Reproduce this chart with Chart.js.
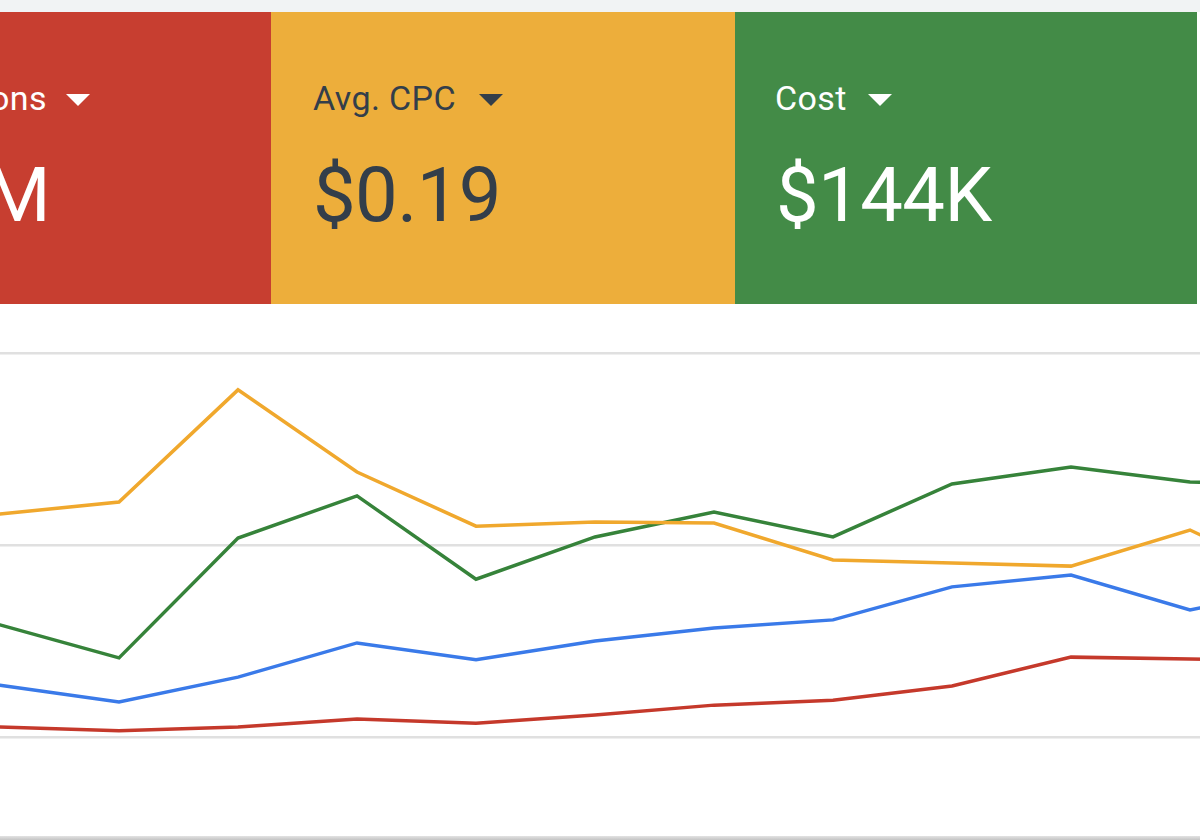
<!DOCTYPE html>
<html>
<head>
<meta charset="utf-8">
<script src="https://cdn.jsdelivr.net/npm/chart.js@4/dist/chart.umd.min.js"></script>
<style>
  html, body { margin: 0; padding: 0; }
  body {
    width: 1200px; height: 840px; overflow: hidden; position: relative;
    background: #fff; font-family: Roboto, "Noto Sans", sans-serif;
  }
  .topbar { position: absolute; left: 0; top: 0; width: 1200px; height: 12px; background: #f1f3f4; }
  .tile { position: absolute; top: 12px; height: 292px; overflow: hidden; }
  .red { left: 0; width: 271px; background: #c73e30; }
  .yellow { left: 271px; width: 464px; background: #edae3b; }
  .green { left: 735px; width: 462px; background: #438b47; }
  .label, .value { position: absolute; line-height: 1; white-space: nowrap; }
  .label { top: 69px; font-size: 34px; letter-spacing: 0.4px; }
  .value { top: 145px; font-size: 76px; letter-spacing: -0.6px; }
  .caret { position: absolute; top: 82px; width: 0; height: 0;
    border-left: 12px solid transparent; border-right: 12px solid transparent; border-top: 12px solid; }
  .light { color: #fff; }
  .dark { color: #333e4a; }
  .chartbox { position: absolute; left: -119px; top: 343px; width: 1428px; height: 404px; }
  .bottomline { position: absolute; left: 0; top: 836px; width: 1200px; height: 4px;
    background: linear-gradient(#e2e2e2, #c4c4c4); }
</style>
</head>
<body>
<div class="topbar"></div>

<div class="tile red">
  <div class="label light" style="right:224px;">Impressions</div>
  <div class="caret" style="left:66px; color:#fff;"></div>
  <div class="value light" style="right:221px;">M</div>
</div>
<div class="tile yellow">
  <div class="label dark" style="left:42px;">Avg. CPC</div>
  <div class="caret" style="left:208px; color:#333e4a;"></div>
  <div class="value dark" style="left:42px;">$0.19</div>
</div>
<div class="tile green">
  <div class="label light" style="left:40px;">Cost</div>
  <div class="caret" style="left:133px; color:#fff;"></div>
  <div class="value light" style="left:41px;">$144K</div>
</div>

<div class="chartbox"><canvas id="metricsChart"></canvas></div>
<div class="bottomline"></div>

<script>
// periods along the x axis (first and last sit just outside the visible crop)
const periods = ["1", "2", "3", "4", "5", "6", "7", "8", "9", "10", "11", "12", "13"];

// each metric normalised to its own 0-100 range, as the dashboard does
const avgCpc = [56.5, 58.1, 61.2, 90.4, 69.0, 54.9, 56.0, 55.7, 46.1, 45.3, 44.5, 53.9, 39.3];
const cost = [35.7, 29.2, 20.6, 51.8, 62.8, 41.1, 52.1, 58.6, 52.1, 65.9, 70.3, 66.4, 65.6];
const clicks = [17.4, 13.5, 9.1, 15.6, 24.5, 20.1, 25.0, 28.4, 30.5, 39.1, 42.2, 33.1, 39.3];
const impressions = [3.4, 2.6, 1.6, 2.6, 4.7, 3.6, 5.7, 8.3, 9.6, 13.3, 20.8, 20.3, 19.8];

const yTicks = [0, 50, 100];

document.addEventListener("DOMContentLoaded", () => {
  const ctx = document.getElementById("metricsChart").getContext("2d");

  const line = (label, data, color) => ({
    label: label,
    data: data,
    borderColor: color,
    borderWidth: 3.5,
    pointRadius: 0,
    tension: 0,
    fill: false,
  });

  new Chart(ctx, {
    type: "line",
    data: {
      labels: periods,
      datasets: [
        line("Impressions", impressions, "#c5392b"),
        line("Clicks", clicks, "#3a7ae9"),
        line("Avg. CPC", avgCpc, "#f0a82d"),
        line("Cost", cost, "#36833a"),
      ],
    },
    options: {
      responsive: true,
      maintainAspectRatio: false,
      animation: false,
      layout: { padding: { top: 10, bottom: 10, left: 0, right: 0 } },
      plugins: { legend: { display: false }, tooltip: { enabled: false } },
      scales: {
        x: { display: false },
        y: {
          min: yTicks[0],
          max: yTicks[yTicks.length - 1],
          afterBuildTicks: (axis) => { axis.ticks = yTicks.map((v) => ({ value: v })); },
          ticks: { display: false },
          border: { display: false },
          grid: { color: "#e0e0e0", lineWidth: 2.5, drawTicks: false },
        },
      },
    },
  });
});
</script>
</body>
</html>
